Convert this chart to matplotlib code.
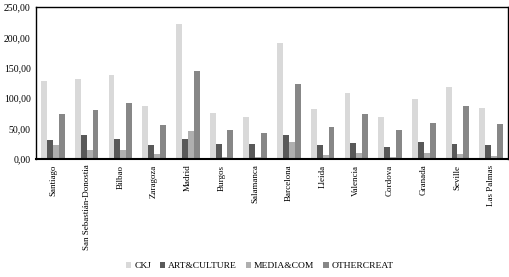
import numpy as np
import matplotlib
matplotlib.use("Agg")
from matplotlib import pyplot as plt
from matplotlib.ticker import FuncFormatter

# Данные
cities = ['Santiago', 'San Sebastián-Donostia', 'Bilbao', 'Zaragoza', 'Madrid', 'Burgos',
          'Salamanca', 'Barcelona', 'Lleida', 'Valencia', 'Cordova', 'Granada', 'Seville',
          'Las Palmas']
ckj = [129, 132, 138, 87, 222, 76, 69, 191, 82, 109, 69, 99, 119, 84]
art_culture = [31, 40, 33, 23, 33, 25, 25, 40, 23, 26, 20, 28, 25, 23]
media_com = [23, 15, 15, 8, 46, 3, 4, 28, 7, 10, 3, 10, 8, 5]
othercreat = [74, 81, 92, 56, 145, 48, 43, 124, 53, 74, 48, 59, 87, 58]

series = [('CKJ', ckj, '#d9d9d9'),
          ('ART&CULTURE', art_culture, '#595959'),
          ('MEDIA&COM', media_com, '#afafaf'),
          ('OTHERCREAT', othercreat, '#878787')]

plt.rcParams['font.family'] = ['Liberation Serif', 'DejaVu Serif']

fig = plt.figure(figsize=(5.09, 2.77), dpi=100)
ax = fig.add_axes([0.071, 0.426, 0.927, 0.548])

x = np.arange(len(cities))
w = 0.175
for i, (name, vals, col) in enumerate(series):
    ax.bar(x + (i - 1.5) * w, vals, w, color=col, label=name)

ax.set_xlim(-0.5, len(cities) - 0.5)
ax.set_ylim(0, 250)
ax.set_yticks(np.arange(0, 251, 50))
ax.yaxis.set_major_formatter(FuncFormatter(lambda v, p: f'{v:.2f}'.replace('.', ',')))
ax.set_xticks(x)
ax.set_xticklabels(cities, rotation=90, fontsize=6.5)
ax.tick_params(axis='both', length=0, labelsize=6.5, pad=4)
ax.tick_params(axis='y', labelsize=7)

for s in ax.spines.values():
    s.set_linewidth(1.0)
ax.spines['bottom'].set_linewidth(1.5)

fig.legend(loc='lower center', bbox_to_anchor=(0.51, -0.005), ncol=4, frameon=False,
           fontsize=6.8, handlelength=0.6, handleheight=0.6, handletextpad=0.3,
           columnspacing=0.9)

fig.savefig('out.png', dpi=100)
